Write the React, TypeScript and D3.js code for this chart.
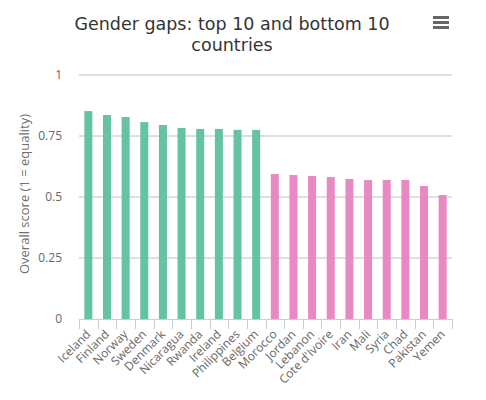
import React from "react"
import * as d3 from "d3"

const countries = [
  "Iceland", "Finland", "Norway", "Sweden", "Denmark", "Nicaragua", "Rwanda", "Ireland", "Philippines", "Belgium",
  "Morocco", "Jordan", "Lebanon", "Cote d'Ivoire", "Iran", "Mali", "Syria", "Chad", "Pakistan", "Yemen",
]
const scores = [
  0.852, 0.836, 0.828, 0.807, 0.795, 0.783, 0.779, 0.779, 0.775, 0.775,
  0.594, 0.590, 0.586, 0.582, 0.574, 0.570, 0.570, 0.570, 0.545, 0.508,
]
const groups = ["top", "top", "top", "top", "top", "top", "top", "top", "top", "top",
  "bottom", "bottom", "bottom", "bottom", "bottom", "bottom", "bottom", "bottom", "bottom", "bottom"]
const yTicks = [0, 0.25, 0.5, 0.75, 1]

const W = 486
const H = 400
const margin = { top: 75, right: 34, bottom: 81, left: 79 }

const App: React.FC = () => {
  const x = d3.scaleBand<string>()
    .domain(countries)
    .range([margin.left, W - margin.right])
    .paddingInner(0.57)
    .paddingOuter(0.285)

  const y = d3.scaleLinear()
    .domain([0, 1])
    .range([H - margin.bottom, margin.top])

  const color = d3.scaleOrdinal<string, string>()
    .domain(["top", "bottom"])
    .range(["#66c2a5", "#e78ac3"])

  const step = x.step()
  const labelFont = "'Open Sans', sans-serif"
  const titleFont = "'DejaVu Sans', Verdana, sans-serif"

  return (
    <div style={{ position: "absolute", left: 0, top: 0 }}>
      <svg width={W} height={H} style={{ background: "#fff", display: "block" }}>
        <text x={232} y={30} textAnchor="middle" fontFamily={titleFont} fontSize={17.5} fill="#333">
          Gender gaps: top 10 and bottom 10
        </text>
        <text x={232} y={51} textAnchor="middle" fontFamily={titleFont} fontSize={17.5} fill="#333">
          countries
        </text>

        {/* menu button */}
        {[0, 1, 2].map(i => (
          <rect key={i} x={433} y={16 + i * 5} width={16} height={3} fill="#666" />
        ))}

        {/* grid + y labels */}
        {yTicks.map(t => (
          <g key={t}>
            {t > 0 && (
              <line x1={margin.left} x2={W - margin.right} y1={y(t)} y2={y(t)} stroke="#c0c0c0" strokeWidth={1} />
            )}
            <text x={62} y={y(t) + 4} textAnchor="end" fontFamily={labelFont} fontSize={12} fill="#666">
              {t}
            </text>
          </g>
        ))}

        <text
          transform={`translate(29,${(y(0) + y(1)) / 2 - 3}) rotate(-90)`}
          textAnchor="middle"
          fontFamily={labelFont}
          fontSize={13}
          fill="#707070"
        >
          Overall score (1 = equality)
        </text>

        {/* bars */}
        {countries.map((c, i) => (
          <rect
            key={c}
            x={x(c)}
            y={y(scores[i])}
            width={x.bandwidth()}
            height={y(0) - y(scores[i])}
            fill={color(groups[i])}
          />
        ))}

        {/* x axis */}
        <line x1={margin.left} x2={W - margin.right} y1={y(0) + 0.5} y2={y(0) + 0.5} stroke="#c0d0e0" />
        {d3.range(countries.length + 1).map(i => {
          const tx = Math.round(margin.left + i * step) + 0.5
          return <line key={i} x1={tx} x2={tx} y1={y(0)} y2={y(0) + 10} stroke="#c0d0e0" />
        })}
        {countries.map(c => {
          const cx = (x(c) ?? 0) + x.bandwidth() / 2 + 3
          return (
            <text
              key={c}
              transform={`translate(${cx},${y(0) + 16}) rotate(-45)`}
              textAnchor="end"
              fontFamily={labelFont}
              fontSize={12}
              fill="#666"
            >
              {c}
            </text>
          )
        })}
      </svg>
    </div>
  )
}

export default App
